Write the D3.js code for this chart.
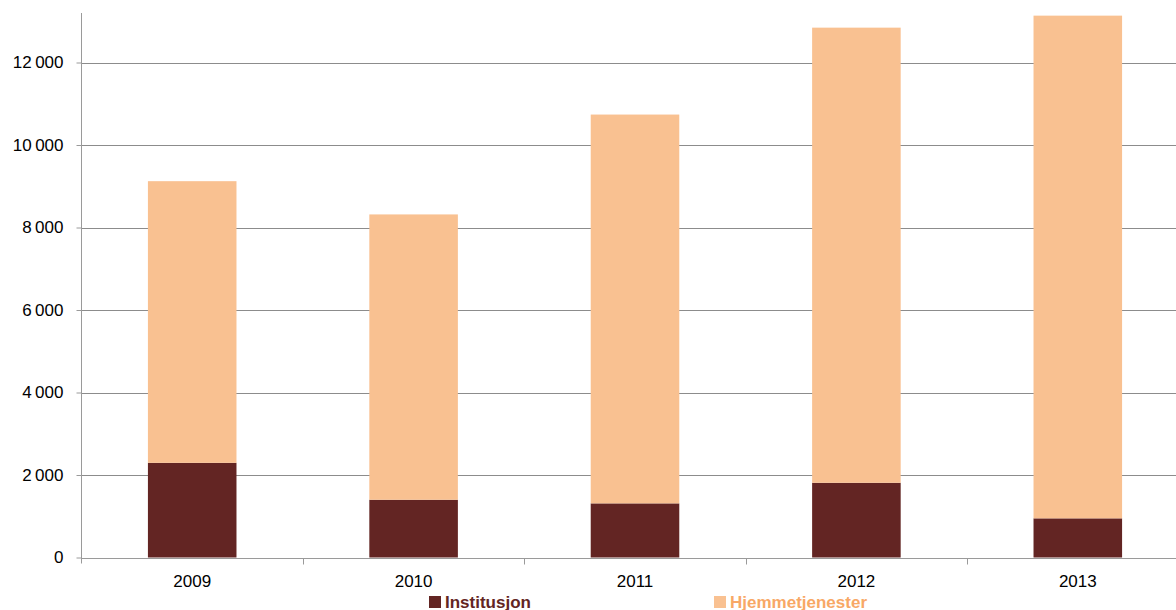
<!DOCTYPE html>
<html>
<head>
<meta charset="utf-8">
<script src="https://cdn.jsdelivr.net/npm/d3@7"></script>
<style>
  html, body { margin: 0; padding: 0; background: #fff; }
  svg { display: block; font-family: "Liberation Sans", Arial, sans-serif; }
</style>
</head>
<body>
<svg id="chart" width="1176" height="610"></svg>
<script>
// Stacked columns per year
const years = ["2009", "2010", "2011", "2012", "2013"];
const institusjon = [2295, 1400, 1312, 1811, 949];
const hjemmetjenester = [6828, 6917, 9426, 11034, 12187];
const seriesNames = ["Institusjon", "Hjemmetjenester"];
const seriesColors = ["#632523", "#F9C191"];
const legendTextColors = ["#632523", "#F8A866"];
const yTicks = [0, 2000, 4000, 6000, 8000, 10000, 12000];

const svg = d3.select("#chart");

const rows = years.map((y, i) => ({ year: y, Institusjon: institusjon[i], Hjemmetjenester: hjemmetjenester[i] }));
const stacked = d3.stack().keys(seriesNames)(rows);

const left = 81.5, step = 221.4;
const x = d3.scaleBand().domain(years)
  .range([left, left + step * years.length])
  .paddingInner(0.6).paddingOuter(0.3);
const y = d3.scaleLinear().domain([0, 13200]).range([557.5, 13]);

const fmt = v => d3.format(",")(v).replace(/,/g, "\u2009");

// horizontal gridlines
svg.append("g").selectAll("line").data(yTicks.filter(d => d > 0)).join("line")
  .attr("x1", left).attr("x2", 1176)
  .attr("y1", d => Math.round(y(d)) + 0.5).attr("y2", d => Math.round(y(d)) + 0.5)
  .attr("stroke", "#8c8c8c").attr("stroke-width", 1);

// bars
svg.append("g").selectAll("g").data(stacked).join("g")
  .attr("fill", (d, i) => seriesColors[i])
  .selectAll("rect").data(d => d).join("rect")
  .attr("x", d => x(d.data.year))
  .attr("width", x.bandwidth())
  .attr("y", d => y(d[1]))
  .attr("height", d => y(d[0]) - y(d[1]));

// y axis
const yAxis = d3.axisLeft(y).tickValues(yTicks).tickFormat(fmt).tickSize(5).tickPadding(13);
const gy = svg.append("g").attr("transform", `translate(${left},0)`).call(yAxis);
gy.select(".domain").attr("d", `M0,${y.range()[1]}V${y(0) + 6}`).attr("stroke", "#9a9a9a");
gy.selectAll(".tick line").attr("stroke", "#9a9a9a");
gy.selectAll(".tick text").attr("font-size", 17).attr("fill", "#000")
  .attr("font-family", "'Liberation Sans', Arial, sans-serif");

// x axis
const baseY = Math.round(y(0)) + 0.5;
const gx = svg.append("g");
gx.append("line").attr("x1", left).attr("x2", 1176).attr("y1", baseY).attr("y2", baseY)
  .attr("stroke", "#9a9a9a");
gx.selectAll("line.tk").data(d3.range(1, years.length + 1)).join("line").attr("class", "tk")
  .attr("x1", i => Math.round(left + i * x.step()) + 0.5)
  .attr("x2", i => Math.round(left + i * x.step()) + 0.5)
  .attr("y1", baseY).attr("y2", baseY + 6)
  .attr("stroke", "#9a9a9a");
gx.selectAll("text").data(years).join("text")
  .attr("x", d => x(d) + x.bandwidth() / 2)
  .attr("y", 587)
  .attr("text-anchor", "middle")
  .attr("font-size", 17).attr("fill", "#000")
  .text(d => d);

// legend
const legendX = [429, 714];
const lg = svg.append("g").selectAll("g").data(seriesNames).join("g")
  .attr("transform", (d, i) => `translate(${legendX[i]},596)`);
lg.append("rect").attr("width", 12).attr("height", 12).attr("fill", (d, i) => seriesColors[i]);
lg.append("text").attr("x", 16).attr("y", 11.5)
  .attr("font-size", 17).attr("font-weight", "bold")
  .attr("fill", (d, i) => legendTextColors[i])
  .text(d => d);
</script>
</body>
</html>
